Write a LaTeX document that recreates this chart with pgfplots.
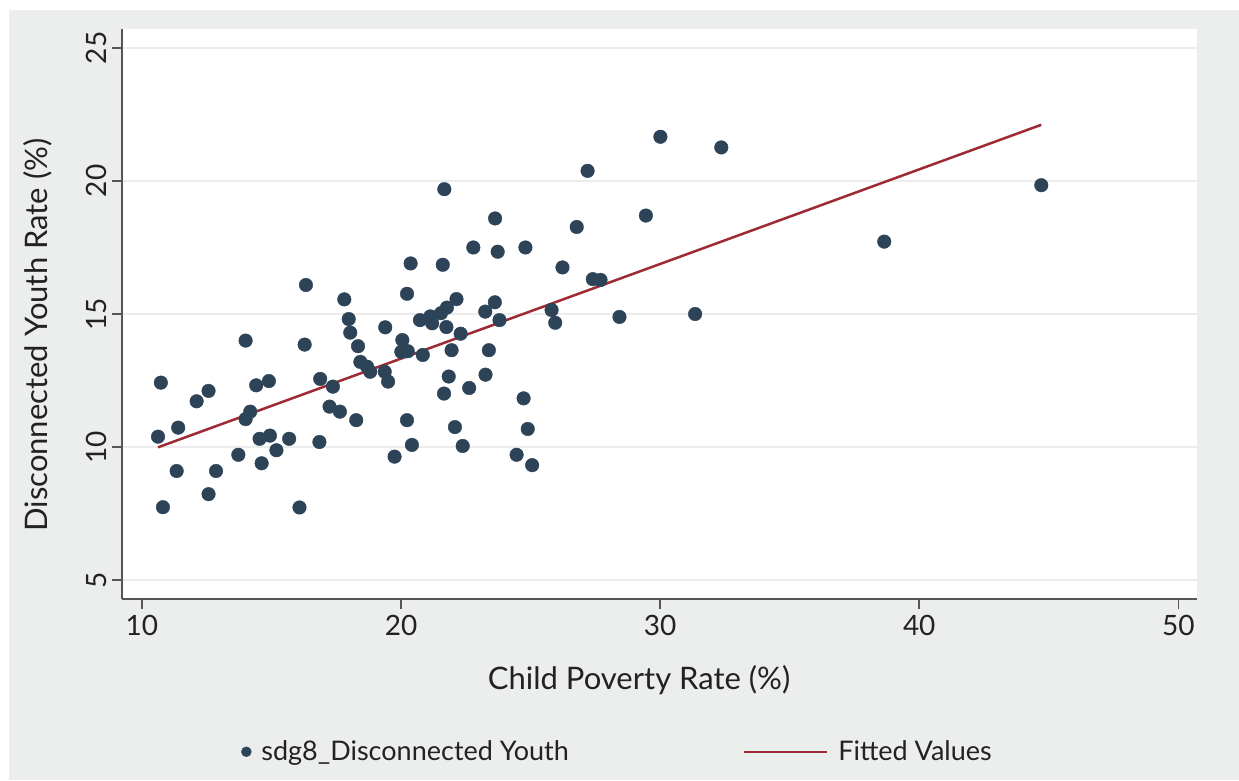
\documentclass[border=0pt]{standalone}
\usepackage{pgfplots}
\pgfplotsset{compat=1.18}
\usepackage{fontspec}
\setmainfont{Lato}
\definecolor{bgcol}{HTML}{ECEEED}
\definecolor{dotcol}{HTML}{2D4358}
\definecolor{fitcol}{HTML}{9E2A33}
\definecolor{axcol}{HTML}{555555}
\definecolor{gridcol}{HTML}{ECECEC}
\definecolor{txtcol}{HTML}{222222}
\pgfplotsset{
  dotlegend/.style={legend image code/.code={\draw[##1, mark size=5pt] plot coordinates {(4pt,0)};}},
  linelegend/.style={legend image code/.code={\draw[##1] (0,0) -- (83pt,0);}},
}
\begin{document}
\begin{tikzpicture}[x=1pt,y=1pt]
\useasboundingbox (0,0) rectangle (1239,780);
\fill[white] (0,0) rectangle (1239,780);
\fill[bgcol] (9,0) rectangle (1239,770);
\begin{axis}[
  at={(122pt,181pt)}, anchor=south west,
  scale only axis, width=1075pt, height=570pt,
  xmin=9.23, xmax=50.72, ymin=4.29, ymax=25.71,
  axis background/.style={fill=white},
  axis lines*=left,
  axis line style={-, draw=axcol, line width=1.5pt},
  xtick={10,20,30,40,50}, ytick={5,10,15,20,25},
  tick align=outside, major tick length=10pt,
  tick style={draw=axcol, line width=1.5pt},
  ymajorgrids, major grid style={draw=gridcol, line width=2.5pt},
  /pgf/number format/assume math mode=true,
  tick label style={font=\fontsize{28}{30}\selectfont, text=txtcol},
  yticklabel style={rotate=90, anchor=south, yshift=2pt},
  xticklabel style={yshift=-3pt},
  xlabel={Child Poverty Rate (\%)},
  ylabel={Disconnected Youth Rate (\%)},
  label style={font=\fontsize{31}{33}\selectfont, text=txtcol},
  xlabel style={at={(axis description cs:0.481,-0.142)}, anchor=center},
  ylabel style={at={(axis description cs:-0.078,0.463)}, anchor=center},
  legend style={at={(axis description cs:0.461,-0.268)}, anchor=center,
    draw=none, fill=none, legend columns=2,
    font=\fontsize{27}{29}\selectfont, text=txtcol,
    /tikz/every odd column/.append style={column sep=8pt},
    /tikz/every even column/.append style={column sep=172pt}},
]
\addplot[only marks, mark=*, mark size=6.8pt, draw=dotcol, fill=dotcol, dotlegend]
  coordinates {
(10.73,12.42) (10.62,10.39) (11.40,10.73) (12.11,11.72) (12.57,12.11)
(11.34,9.10) (10.81,7.74) (12.86,9.10) (12.57,8.23) (13.72,9.71)
(14.00,14.00) (14.41,12.32) (14.90,12.48) (14.18,11.33) (14.00,11.05)
(14.54,10.31) (14.94,10.43) (14.62,9.39) (15.19,9.88) (15.68,10.31)
(16.33,16.09) (16.28,13.85) (16.08,7.73) (16.85,10.19) (16.88,12.56)
(17.37,12.27) (17.24,11.52) (17.64,11.33) (18.27,11.01) (17.81,15.55)
(17.98,14.81) (18.04,14.30) (18.34,13.79) (18.43,13.20) (18.69,13.02)
(18.81,12.83) (19.37,12.83) (19.50,12.46) (19.39,14.50) (20.05,14.02)
(20.01,13.58) (20.26,13.60) (20.23,11.01) (20.42,10.08) (19.75,9.64)
(20.37,16.90) (20.23,15.76) (20.73,14.77) (20.84,13.46)
(27.20,20.38) (21.67,19.69) (23.63,18.59) (26.78,18.27) (29.45,18.70)
(22.79,17.50) (23.73,17.34) (24.80,17.50) (21.61,16.85) (26.23,16.75)
(27.40,16.31) (27.70,16.28) (22.14,15.56) (21.77,15.24) (21.54,15.03)
(21.13,14.91) (21.20,14.65) (21.75,14.51) (23.25,15.09) (23.62,15.44)
(23.80,14.77) (25.81,15.15) (25.95,14.67) (28.43,14.89) (31.35,15.00)
(22.30,14.26) (21.95,13.64) (23.39,13.64) (21.84,12.65) (23.26,12.72)
(21.66,12.01) (22.63,12.22) (24.73,11.83) (22.08,10.75) (24.89,10.68)
(22.38,10.04) (24.46,9.71) (25.06,9.32)
(30.01,21.66) (32.36,21.26) (44.71,19.84) (38.65,17.72)
};
\addlegendentry{sdg8\_Disconnected Youth}
\addplot[draw=fitcol, line width=2.5pt, linelegend]
  coordinates {(10.62,9.99) (44.71,22.11)};
\addlegendentry{Fitted Values}
\end{axis}
\end{tikzpicture}
\end{document}
